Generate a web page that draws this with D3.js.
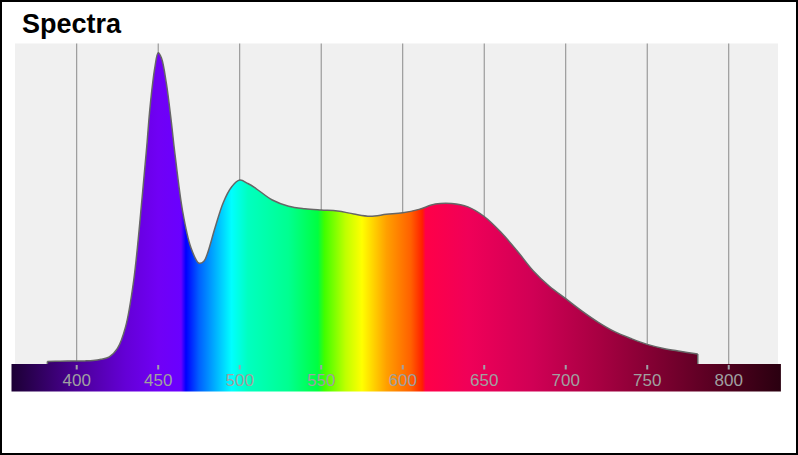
<!DOCTYPE html>
<html>
<head>
<meta charset="utf-8">
<script src="https://cdn.jsdelivr.net/npm/d3@7"></script>
<style>
  html, body { margin: 0; padding: 0; background: #fff; }
  svg { display: block; }
</style>
</head>
<body>
<svg id="chart" width="798" height="455"></svg>
<script>
// ---- data ----
const wavelengths = [382, 390, 400, 405, 410, 415, 420, 425, 430, 435, 440, 443, 445, 448, 450, 452, 455, 458, 460, 465, 470, 475, 478, 480, 485, 490, 495, 500, 505, 510, 520, 530, 540, 550, 560, 570, 580, 590, 600, 610, 620, 630, 640, 650, 660, 670, 680, 690, 700, 710, 720, 730, 740, 750, 760, 770, 781];
const intensity   = [0.008, 0.009, 0.010, 0.010, 0.011, 0.015, 0.023, 0.05, 0.12, 0.27, 0.527, 0.70, 0.826, 0.955, 1.0, 0.983, 0.902, 0.78, 0.687, 0.49, 0.375, 0.324, 0.33, 0.352, 0.44, 0.52, 0.569, 0.591, 0.58, 0.564, 0.527, 0.507, 0.499, 0.495, 0.492, 0.482, 0.475, 0.481, 0.486, 0.497, 0.514, 0.516, 0.505, 0.474, 0.425, 0.365, 0.30, 0.25, 0.21, 0.17, 0.134, 0.104, 0.082, 0.063, 0.05, 0.041, 0.032];
const tickValues = [400, 450, 500, 550, 600, 650, 700, 750, 800];
const spectrumNm     = [360, 400, 430, 450, 464, 467, 475, 485, 495, 505, 530, 548, 552, 565, 575, 590, 605, 612, 614, 640, 680, 720, 780, 832];
const spectrumColors = ["#1c0034", "#4b0096", "#6400d6", "#7000f5", "#6a00ff", "#0000ff", "#0060ff", "#00b0ff", "#00ffff", "#00ffc0", "#00ff90", "#00ff40", "#40ff00", "#c0ff00", "#ffff00", "#ffa000", "#ff6000", "#ff2000", "#ff0048", "#f00058", "#d00055", "#a80042", "#640026", "#2a0010"];

const svg = d3.select("#chart");
const W = 798, H = 455;

const x = d3.scaleLinear().domain([360, 832]).range([11.5, 780.9]);
const y = d3.scaleLinear().domain([0, 1.03]).range([364, 43.5]);

// border
svg.append("rect").attr("x", 1).attr("y", 1).attr("width", W - 2).attr("height", H - 2)
  .attr("fill", "#fff").attr("stroke", "#000").attr("stroke-width", 2);

// title
svg.append("text").attr("x", 22).attr("y", 33)
  .attr("font-family", "Liberation Sans, Arial, sans-serif")
  .attr("font-size", 27).attr("font-weight", "bold").attr("fill", "#000")
  .text("Spectra");

// gradient
const defs = svg.append("defs");
const grad = defs.append("linearGradient").attr("id", "spec")
  .attr("gradientUnits", "userSpaceOnUse")
  .attr("x1", x(360)).attr("x2", x(832)).attr("y1", 0).attr("y2", 0);
spectrumNm.forEach((nm, i) => {
  grad.append("stop").attr("offset", (nm - 360) / (832 - 360)).attr("stop-color", spectrumColors[i]);
});

// plot background
svg.append("rect").attr("x", 15).attr("y", y(1.03)).attr("width", 778 - 15).attr("height", y(0) - y(1.03))
  .attr("fill", "#f0f0f0");

// grid lines
svg.append("g").selectAll("line").data(tickValues).join("line")
  .attr("x1", d => x(d)).attr("x2", d => x(d))
  .attr("y1", y(1.03)).attr("y2", y(0))
  .attr("stroke", "#8a8a8a").attr("stroke-width", 1);

const pts = wavelengths.map((w, i) => [w, intensity[i]]);

// area
const curve = d3.curveCatmullRom.alpha(0.5);
const area = d3.area().x(d => x(d[0])).y0(y(0)).y1(d => y(d[1])).curve(curve);
svg.append("path").datum(pts).attr("d", area).attr("fill", "url(#spec)");

// outline
const line = d3.line().x(d => x(d[0])).y(d => y(d[1])).curve(curve);
svg.append("path").datum(pts).attr("d", line)
  .attr("fill", "none").attr("stroke", "#666").attr("stroke-width", 1.5);
const first = pts[0], last = pts[pts.length - 1];
[[[first[0], 0], first], [last, [last[0], 0]]].forEach(seg => {
  svg.append("path").datum(seg).attr("d", d3.line().x(d => x(d[0])).y(d => y(d[1])))
    .attr("fill", "none").attr("stroke", "#666").attr("stroke-width", 1.5);
});

// spectrum band axis
svg.append("rect").attr("x", x(360)).attr("y", y(0)).attr("width", x(832) - x(360)).attr("height", 27.5)
  .attr("fill", "url(#spec)");

const axis = svg.append("g");
axis.selectAll("rect").data(tickValues).join("rect")
  .attr("x", d => x(d) - 1).attr("y", y(0) + 1).attr("width", 2).attr("height", 4.5)
  .attr("fill", "#a0a0a8");
axis.selectAll("text").data(tickValues).join("text")
  .attr("x", d => x(d)).attr("y", 386)
  .attr("text-anchor", "middle")
  .attr("font-family", "Liberation Sans, Arial, sans-serif")
  .attr("font-size", 17).attr("fill", "#a0a0a0")
  .text(d => d);
</script>
</body>
</html>
